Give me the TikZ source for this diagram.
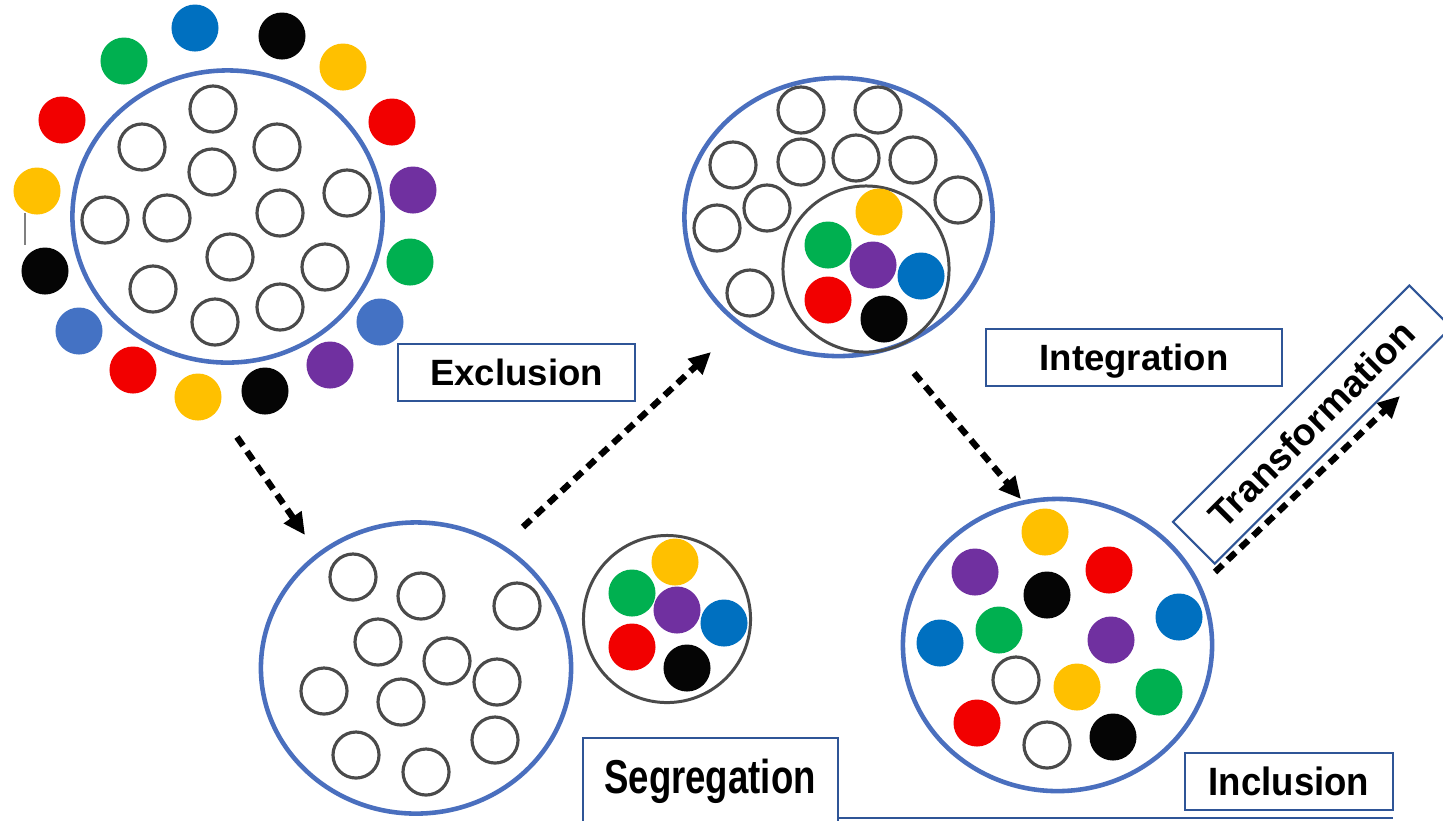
\documentclass[tikz,border=0pt]{standalone}
\usepackage{fontspec}
\usepackage{graphicx}
\setmainfont{Liberation Sans}
\usetikzlibrary{shapes.geometric,arrows.meta}

\definecolor{cred}{HTML}{F20000}
\definecolor{cyellow}{HTML}{FFC000}
\definecolor{cgreen}{HTML}{00B050}
\definecolor{cblue}{HTML}{0070C0}
\definecolor{cblueb}{HTML}{4472C4}
\definecolor{cpurple}{HTML}{7030A0}
\definecolor{cblack}{HTML}{050505}
\definecolor{ringblue}{HTML}{4A6FBE}
\definecolor{boxblue}{HTML}{2F5597}
\definecolor{rimgray}{HTML}{4A4A4A}

\begin{document}
\begin{tikzpicture}[x=0.01cm,y=-0.01cm,
  ring/.style={draw=ringblue,line width=1.3pt,ellipse,inner sep=0pt},
  pocket/.style={draw=rimgray,line width=0.85pt,circle,inner sep=0pt},
  hollow/.style={draw=rimgray,line width=0.9pt,circle,inner sep=0pt,minimum size=0.46cm},
  dot/.style={fill=#1,circle,inner sep=0pt,minimum size=0.47cm},
  tagfont/.style={font=\fontsize{10.4}{12}\selectfont\bfseries},
  tag/.style={draw=boxblue,fill=white,line width=0.6pt,inner sep=0pt,tagfont,
              text height=0.716em,text depth=0pt},
  flow/.style={line width=1.8pt,dash pattern=on 3pt off 2pt,
               -{Triangle[length=6.2pt,width=5.8pt]}}]

\clip (0,0) rectangle (1443,820);
\fill[white] (0,0) rectangle (1443,820);

% ---------- Exclusion: everyone else stays outside ----------
\node[ring,minimum width=3.10cm,minimum height=2.92cm] (excl) at (227.5,216.5) {};
\foreach \x/\y [count=\i] in {213/109,142/147,277/147,212/172,347/193,105/220,
    167/218,280/213,230/257,325/267,153/289,280/307,215/322}
  \node[hollow] (exh\i) at (\x,\y) {};
\foreach \x/\y/\c [count=\i] in {195/28/cblue,282/36/cblack,343/67/cyellow,
    392/122/cred,413/190/cpurple,410/262/cgreen,380/322/cblueb,330/365/cpurple,
    265/391/cblack,198/397/cyellow,133/370/cred,79/331/cblueb,45/271/cblack,
    37/191/cyellow,62/120/cred,124/61/cgreen}
  \node[dot=\c] (exd\i) at (\x,\y) {};
\coordinate (tick1) at (25,213);
\coordinate (tick2) at (25,245);
\draw[gray,line width=0.6pt] (tick1) -- (tick2);
\node[tag,minimum width=2.37cm,minimum height=0.57cm] (exlabel) at (516.5,372.5) {Exclusion};

% ---------- Segregation: a separate group beside the circle ----------
\node[ring,minimum width=3.10cm,minimum height=2.91cm] (segr) at (416,668) {};
\foreach \x/\y [count=\i] in {353/577,421/596,517/606,378/642,447/661,497/682,
    324/691,401/702,495/740,356/755,426/772}
  \node[hollow] (sgh\i) at (\x,\y) {};
\node[pocket,minimum size=1.67cm] (sgpocket) at (667,619) {};
\foreach \x/\y/\c [count=\i] in {675/562/cyellow,632/593/cgreen,677/610/cpurple,
    724/623/cblue,632/647/cred,687/668/cblack}
  \node[dot=\c] (sgd\i) at (\x,\y) {};
\node[draw=boxblue,fill=white,line width=0.6pt,minimum width=2.55cm,
      minimum height=1.1cm,anchor=north] (segbox) at (710.5,737) {};
\node[tagfont,inner sep=0pt,text height=0.93em,text depth=0pt] (seglabel)
      at (710,777.5) {\scalebox{1}[1.3]{Segregation}};
\coordinate (base1) at (838,818);
\coordinate (base2) at (1393,818);
\draw[boxblue,line width=0.6pt] (base1) -- (base2);

% ---------- Integration: a group placed inside the circle ----------
\node[ring,minimum width=3.08cm,minimum height=2.78cm] (integ) at (838.5,217) {};
\foreach \x/\y [count=\i] in {801/110,878/110,733/165,801/162,856/158,913/160,
    767/208,958/200,717/228,750/293}
  \node[hollow] (inh\i) at (\x,\y) {};
\node[pocket,minimum size=1.66cm] (inpocket) at (866,269) {};
\foreach \x/\y/\c [count=\i] in {879/212/cyellow,828/245/cgreen,873/265/cpurple,
    921/276/cblue,828/300/cred,884/319/cblack}
  \node[dot=\c] (ind\i) at (\x,\y) {};
\node[tag,minimum width=2.96cm,minimum height=0.57cm] (inlabel) at (1134,357.5) {Integration};

% ---------- Inclusion: everyone mixed together ----------
\node[ring,minimum width=3.09cm,minimum height=2.92cm] (incl) at (1057.5,645) {};
\foreach \x/\y/\c [count=\i] in {1045/532/cyellow,975/572/cpurple,1109/570/cred,
    1047/595/cblack,1179/617/cblue,999/630/cgreen,940/643/cblue,1111/640/cpurple,
    1077/687/cyellow,1159/692/cgreen,977/723/cred,1113/737/cblack}
  \node[dot=\c] (icd\i) at (\x,\y) {};
\node[hollow] (ich1) at (1016,680) {};
\node[hollow] (ich2) at (1047,745) {};
\node[tag,minimum width=2.08cm,minimum height=0.57cm,text height=0.77em]
      (iclabel) at (1289,781.5) {\scalebox{1}[1.08]{Inclusion}};

% ---------- Transformation ----------
\node[tag,rotate=45,minimum width=3.34cm,minimum height=0.59cm,
      font=\fontsize{10.7}{12}\selectfont\bfseries] (trlabel) at (1312,424.5) {Transformation};

% ---------- dashed flow arrows ----------
\coordinate (f1s) at (237,437);  \coordinate (f1e) at (305,535);
\coordinate (f2s) at (523,527);  \coordinate (f2e) at (711,352);
\coordinate (f3s) at (914,373);  \coordinate (f3e) at (1021,499);
\coordinate (f4s) at (1215,572); \coordinate (f4e) at (1400,396);
\draw[flow] (f1s) -- (f1e);
\draw[flow] (f2s) -- (f2e);
\draw[flow] (f3s) -- (f3e);
\draw[flow] (f4s) -- (f4e);
\end{tikzpicture}
\end{document}
